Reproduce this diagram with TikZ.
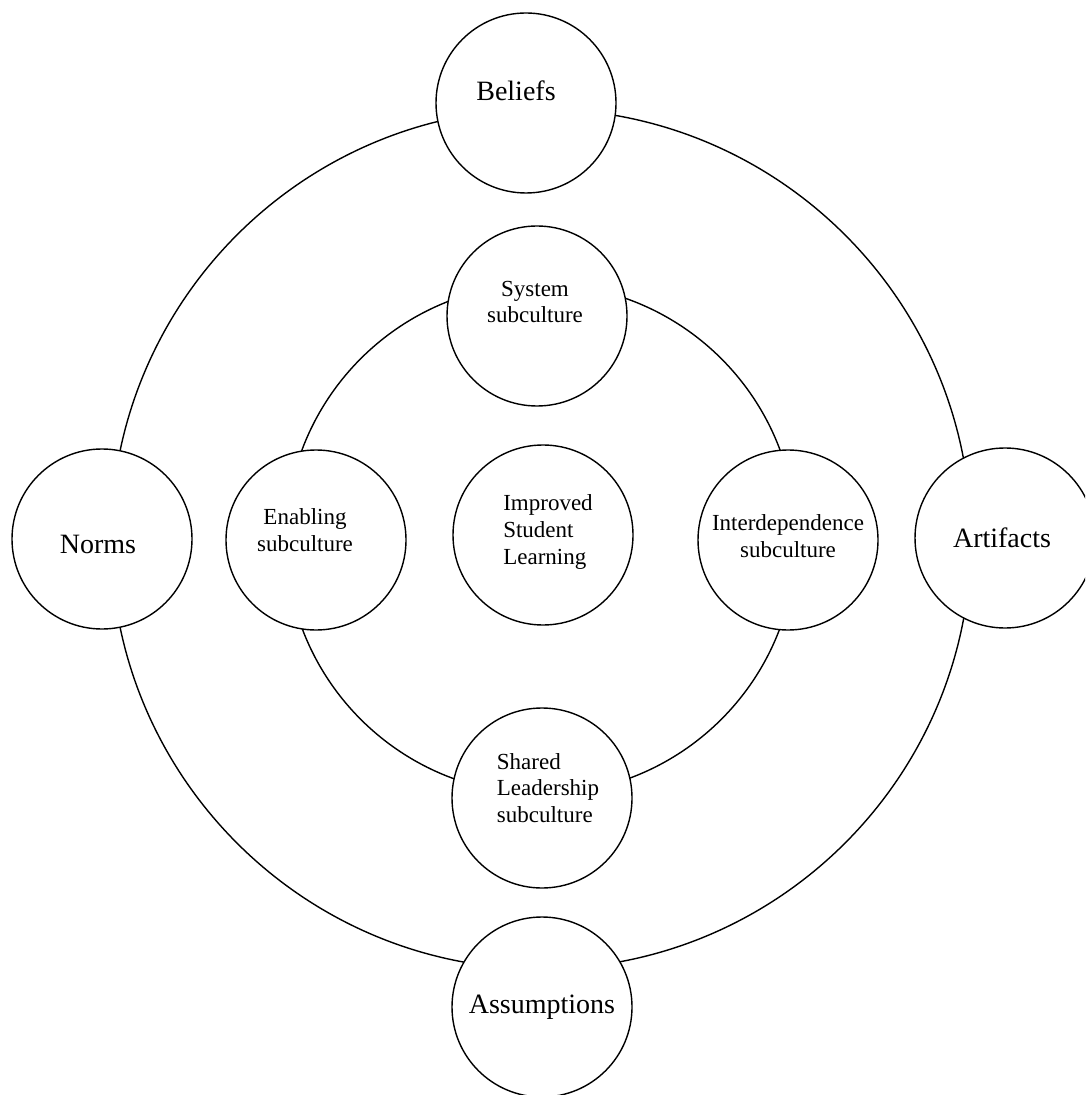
\documentclass[tikz,border=0pt]{standalone}
\usepackage{fontspec}
\setmainfont{Liberation Serif}
\tikzset{
  ring/.style={circle, draw, fill=white, minimum size=90pt, inner sep=0pt, line width=0.7pt},
  outtxt/.style={font=\fontsize{14}{16}\selectfont},
  intxt/.style={font=\fontsize{11.5}{13.3}\selectfont, align=center},
  intxtl/.style={font=\fontsize{11.5}{13.3}\selectfont, align=left},
}
\begin{document}
\begin{tikzpicture}[x=0.5pt, y=-0.5pt]
  \useasboundingbox (0,0) rectangle (1085,1095);
  \clip (0,0) rectangle (1085,1095);
  \fill[white] (0,0) rectangle (1085,1095);
  \coordinate (hub) at (541,539);
  % the two rings
  \draw[line width=0.7pt] (hub) circle[radius=215pt];
  \draw[line width=0.7pt] (hub) circle[radius=127.5pt];
  % outer ring
  \node[ring, label={[outtxt, shift={(-5pt,6pt)}]center:Beliefs}] (beliefs) at (526,103) {};
  \node[ring, label={[outtxt, shift={(-2pt,-2.5pt)}]center:Norms}] (norms) at (102,539) {};
  \node[ring, label={[outtxt, shift={(-1.5pt,0pt)}]center:Artifacts}] (artifacts) at (1005,538) {};
  \node[ring, label={[outtxt]center:Assumptions}] (assumptions) at (542,1007) {};
  % inner ring
  \node[ring, label={[intxt, shift={(-1pt,7pt)}]center:System\\subculture}] (system) at (537,316) {};
  \node[ring, label={[intxt, shift={(-5.5pt,5pt)}]center:Enabling\\subculture}] (enabling) at (316,540) {};
  \node[ring, label={[intxt, shift={(0pt,2pt)}]center:Interdependence\\subculture}] (interdep) at (788,540) {};
  \node[ring, label={[intxtl, shift={(3pt,5pt)}]center:Shared\\Leadership\\subculture}] (shared) at (542,798) {};
  % middle
  \node[ring, label={[intxtl, shift={(2.5pt,1.5pt)}]center:Improved\\Student\\Learning}] (learning) at (543,535) {};
\end{tikzpicture}
\end{document}
